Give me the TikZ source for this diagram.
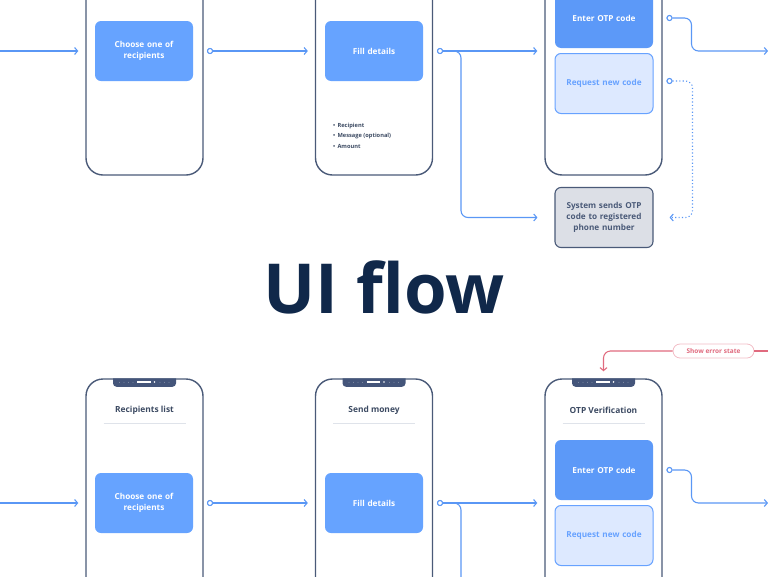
\documentclass[tikz,border=0pt]{standalone}
\usepackage{fontspec}
\setmainfont{Open Sans}
\usepackage{tikz}
\usetikzlibrary{arrows.meta,shapes,positioning}

\definecolor{frame}{HTML}{4A5A78}
\definecolor{notchc}{HTML}{44557A}
\definecolor{btnblue}{HTML}{66A3FF}
\definecolor{otpblue}{HTML}{5C99F8}
\definecolor{altfill}{HTML}{DDE9FF}
\definecolor{altline}{HTML}{67A2FF}
\definecolor{sysfill}{HTML}{DCDFE6}
\definecolor{flow}{HTML}{5A97F5}
\definecolor{head}{HTML}{3D4B63}
\definecolor{sepgray}{HTML}{DFE3EA}
\definecolor{errred}{HTML}{E06A7E}
\definecolor{errpale}{HTML}{F2BCC5}
\definecolor{titlecol}{HTML}{10284A}

\begin{document}
\begin{tikzpicture}[x=1pt, y=-1pt]
		\tikzstyle{Phone}	= [draw=frame, line width=1.4pt, fill=white, rounded corners=17pt, minimum width=117pt, minimum height=248pt, inner sep=0pt]
		\tikzstyle{Btn}		= [fill=btnblue, rounded corners=6pt, minimum width=98pt, minimum height=60pt, text width=92pt, align=center, inner sep=0pt, text=white, font=\fontsize{8.2}{11}\selectfont\bfseries]
		\tikzstyle{Alt}		= [Btn, fill=altfill, draw=altline, line width=1pt, text=altline]
		\tikzstyle{Sys}		= [Btn, fill=sysfill, draw=frame, line width=1.1pt, text=frame]
		\tikzstyle{Head}	= [text=head, font=\fontsize{8.4}{9}\selectfont\bfseries]
		\tikzstyle{Item}	= [anchor=west, inner sep=0pt, text=head, font=\fontsize{5.7}{6}\selectfont\bfseries]
		\tikzstyle{Port}	= [circle, draw=flow, fill=white, line width=1pt, minimum size=5pt, inner sep=0pt]
		\tikzstyle{Flow}	= [draw=flow, line width=1.1pt, -{Straight Barb[length=3pt,width=7pt]}]
		\tikzstyle{Err}		= [draw=errred, line width=1.1pt]
		\tikzstyle{Pill}	= [draw=errpale, fill=white, line width=0.8pt, rounded corners=7pt, minimum width=81pt, minimum height=14pt, text=errred, font=\fontsize{6.5}{7}\selectfont\bfseries]
		\tikzstyle{Sep}		= [draw=sepgray, line width=0.8pt]

		\useasboundingbox (0,0) rectangle (768,576);
		\clip (0,0) rectangle (768,576);

		% upper row
		\node (ph1) at (144.5,51) [Phone] {};
		\node (ph2) at (374,51) [Phone] {};
		\node (ph3) at (603.5,51) [Phone] {};
		\node (b1) at (144,51) [Btn] {Choose one of\\recipients};
		\node (b2) at (374,51) [Btn] {Fill details};
		\node (b3) at (604,18) [Btn, fill=otpblue] {Enter OTP code};
		\node (b4) at (604,83.5) [Alt] {Request new code};
		\node (sys) at (604,217.5) [Sys] {System sends OTP\\code to registered\\phone number};
		\node (l1) at (333,126) [Item] {\textbullet\hspace{2.2pt}Recipient};
		\node (l2) at (333,136) [Item] {\textbullet\hspace{2.2pt}Message (optional)};
		\node (l3) at (333,146) [Item] {\textbullet\hspace{2.2pt}Amount};

		\coordinate (in1) at (0,51);
		\coordinate (out3) at (768,51);
		\node (o1) at (210,51) [Port] {};
		\node (o2) at (440,51) [Port] {};
		\node (o3) at (669.5,18) [Port] {};
		\node (o4) at (669.5,81) [Port] {};

		\draw [Flow, shorten >=7pt] (in1) -- (ph1);
		\draw [Flow, shorten >=7pt] (o1) -- (ph2);
		\draw [Flow, shorten >=7pt] (o2) -- (ph3);
		\draw [Flow, shorten >=17pt, rounded corners=7pt] (o2) -- ++(21,0) |- (sys.west);
		\draw [Flow, rounded corners=7pt] (o3) -- ++(22,0) |- (out3);
		\draw [Flow, dash pattern=on 1.1pt off 2.3pt, shorten >=16pt, rounded corners=7pt] (o4) -- ++(23,0) |- (sys.east);
		\node at (o1) [Port] {};
		\node at (o2) [Port] {};
		\node at (o3) [Port] {};
		\node at (o4) [Port] {};

		% title
		\node (title) at (384,313) [anchor=base, inner sep=0pt, text=titlecol, font=\fontsize{69}{69}\selectfont\bfseries] {UI flow};

		% lower row
		\node (ph4) at (144.5,503) [Phone] {};
		\node (ph5) at (374,503) [Phone] {};
		\node (ph6) at (603.5,503) [Phone] {};
		\foreach \p in {ph4,ph5,ph6} {
			\fill [notchc] ([xshift=-31.5pt]\p.north) [rounded corners=3.5pt] -- ++(0,8.5) -- ++(63,0) [sharp corners] -- ++(0,-8.5) -- cycle;
			\draw [white, line width=1.3pt] ([xshift=-7.5pt, yshift=-3.6pt]\p.north) -- ++(13.5,0);
			\fill [white] ([xshift=10pt, yshift=-3.6pt]\p.north) circle (0.9pt);
			\foreach \dx in {-25,-20.5,-16,-11.5,15.5,20,24.5}
				\fill [white!60!notchc] ([xshift=\dx pt, yshift=-4pt]\p.north) circle (0.35pt);
		}
		\node (h1) at (144.5,410) [Head] {Recipients list};
		\node (h2) at (374,410) [Head] {Send money};
		\node (h3) at (603.5,410) [Head] {OTP Verification};
		\draw [Sep] (103.5,423) -- (185.5,423);
		\draw [Sep] (333,423) -- (415,423);
		\draw [Sep] (562.5,423) -- (644.5,423);
		\node (b5) at (144,503) [Btn] {Choose one of\\recipients};
		\node (b6) at (374,503) [Btn] {Fill details};
		\node (b7) at (604,470) [Btn, fill=otpblue] {Enter OTP code};
		\node (b8) at (604,535.5) [Alt] {Request new code};

		\coordinate (in2) at (0,503);
		\coordinate (out7) at (768,503);
		\coordinate (down6) at (461,600);
		\node (o5) at (210,503) [Port] {};
		\node (o6) at (440,503) [Port] {};
		\node (o7) at (669.5,470) [Port] {};

		\draw [Flow, shorten >=7pt] (in2) -- (ph4);
		\draw [Flow, shorten >=7pt] (o5) -- (ph5);
		\draw [Flow, shorten >=7pt] (o6) -- (ph6);
		\draw [draw=flow, line width=1.1pt, rounded corners=7pt] (o6) -| (down6);
		\draw [Flow, rounded corners=7pt] (o7) -- ++(22,0) |- (out7);
		\node at (o5) [Port] {};
		\node at (o6) [Port] {};
		\node at (o7) [Port] {};

		% error path
		\coordinate (r0) at (768,351);
		\node (err) at (713.5,351) [Pill] {Show error state};
		\draw [Err] (r0) -- (err);
		\draw [Err, -{Straight Barb[length=3pt,width=7pt]}, shorten >=7pt, rounded corners=7pt] (err.west) -| (ph6.north);
\end{tikzpicture}
\end{document}
